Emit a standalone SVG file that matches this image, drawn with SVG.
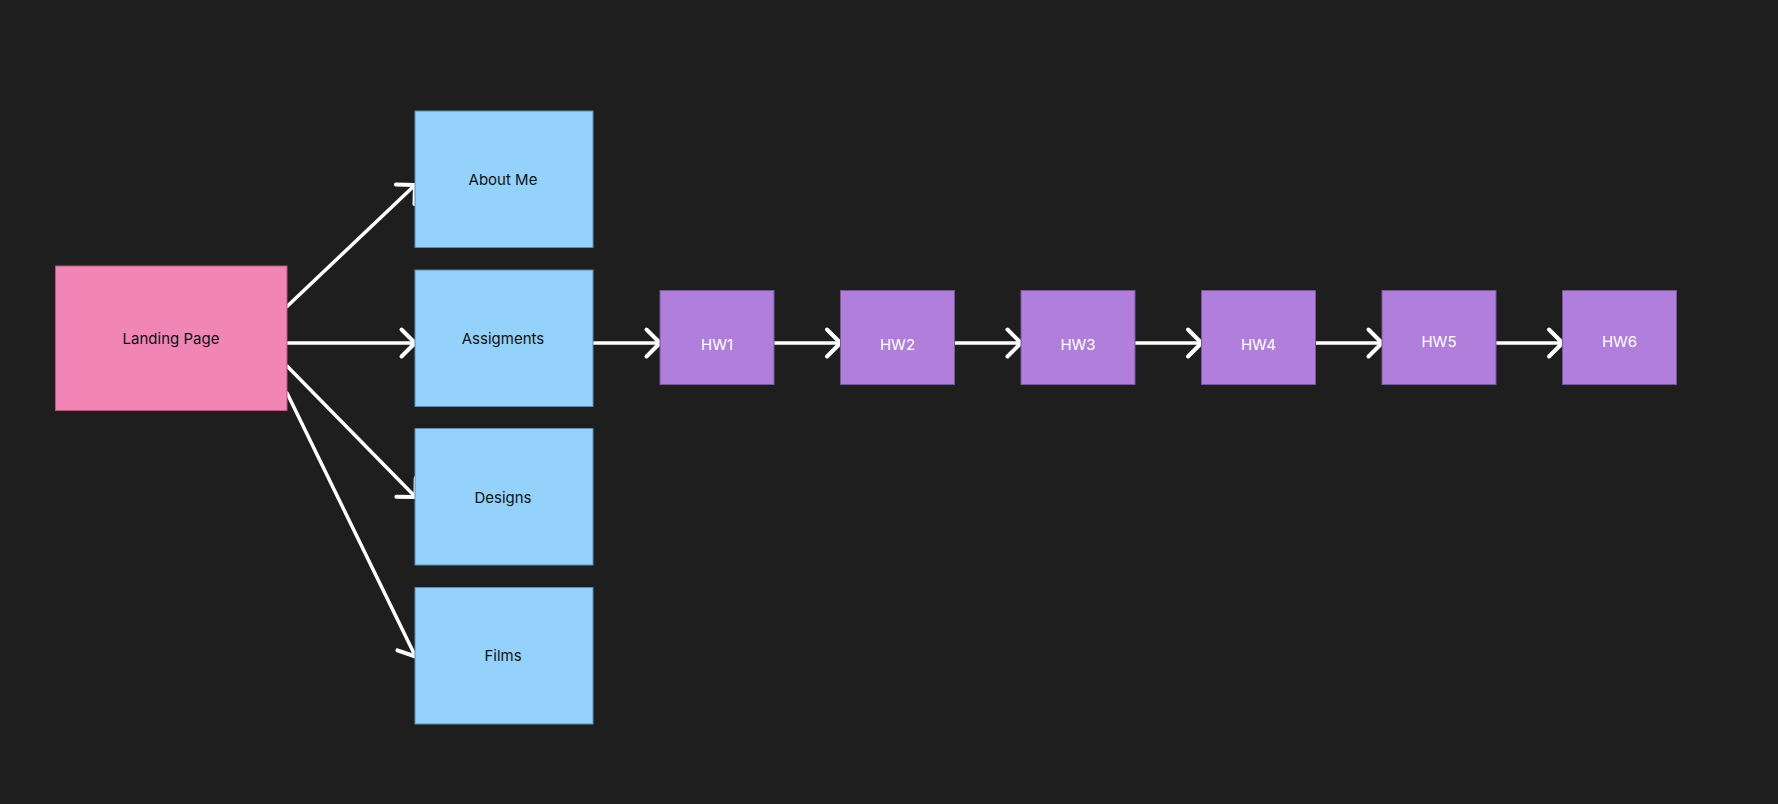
<svg xmlns="http://www.w3.org/2000/svg" width="1778" height="804" viewBox="0 0 1778 804">
  <defs>
    <style>
      .page { fill: #f085b6; stroke: #b5577f; stroke-width: 1; }
      .section { fill: #94d2fc; stroke: #5a8db0; stroke-width: 1; }
      .hw { fill: #b07fdb; stroke: #7b56a0; stroke-width: 1; }
      .label { font-family: Inter, "Liberation Sans", sans-serif; font-size: 15px; text-anchor: middle; }
      .dark { fill: #111111; }
      .light { fill: #ffffff; }
      .link { stroke: #ffffff; stroke-width: 3.5; fill: none; stroke-linecap: round; marker-end: url(#chevron); }
    </style>
    <marker id="chevron" viewBox="-20 -20 24 40" markerUnits="userSpaceOnUse" markerWidth="24" markerHeight="40" refX="0" refY="0" orient="auto">
      <path d="M -13.5 -13.5 L 0 0 L -13.5 13.5" fill="none" stroke="#ffffff" stroke-width="4" stroke-linecap="round" stroke-linejoin="round"/>
    </marker>
  </defs>

  <rect width="1778" height="804" fill="#1e1e1e"/>

  <!-- connectors -->
  <g id="connectors">
    <line class="link" x1="287" y1="306.5" x2="415" y2="185"/>
    <line class="link" x1="287" y1="343" x2="415" y2="343"/>
    <line class="link" x1="287" y1="366" x2="415.5" y2="497"/>
    <line class="link" x1="287" y1="393" x2="415.5" y2="656.5"/>
    <line class="link" x1="593" y1="343" x2="660" y2="343"/>
    <line class="link" x1="774" y1="343" x2="840.5" y2="343"/>
    <line class="link" x1="954.5" y1="343" x2="1021" y2="343"/>
    <line class="link" x1="1135" y1="343" x2="1201.5" y2="343"/>
    <line class="link" x1="1315.5" y1="343" x2="1382" y2="343"/>
    <line class="link" x1="1496" y1="343" x2="1562.5" y2="343"/>
  </g>

  <g id="landing-page">
    <rect class="page" x="55.5" y="266" width="231.5" height="144.5"/>
    <text class="label dark" x="171" y="344">Landing Page</text>
  </g>

  <g id="about-me">
    <rect class="section" x="415" y="111" width="178" height="136.5"/>
    <text class="label dark" x="503" y="185">About Me</text>
  </g>

  <g id="assigments">
    <rect class="section" x="415" y="270" width="178" height="136.5"/>
    <text class="label dark" x="503" y="344">Assigments</text>
  </g>

  <g id="designs">
    <rect class="section" x="415" y="428.5" width="178" height="136.5"/>
    <text class="label dark" x="503" y="502.5">Designs</text>
  </g>

  <g id="films">
    <rect class="section" x="415" y="587.5" width="178" height="136.5"/>
    <text class="label dark" x="503" y="661">Films</text>
  </g>

  <g id="hw1">
    <rect class="hw" x="660" y="290.5" width="114" height="94"/>
    <text class="label light" x="717" y="350">HW1</text>
  </g>

  <g id="hw2">
    <rect class="hw" x="840.5" y="290.5" width="114" height="94"/>
    <text class="label light" x="897.5" y="350">HW2</text>
  </g>

  <g id="hw3">
    <rect class="hw" x="1021" y="290.5" width="114" height="94"/>
    <text class="label light" x="1078" y="350">HW3</text>
  </g>

  <g id="hw4">
    <rect class="hw" x="1201.5" y="290.5" width="114" height="94"/>
    <text class="label light" x="1258.5" y="350">HW4</text>
  </g>

  <g id="hw5">
    <rect class="hw" x="1382" y="290.5" width="114" height="94"/>
    <text class="label light" x="1439" y="346.5">HW5</text>
  </g>

  <g id="hw6">
    <rect class="hw" x="1562.5" y="290.5" width="114" height="94"/>
    <text class="label light" x="1619.5" y="346.5">HW6</text>
  </g>
</svg>
